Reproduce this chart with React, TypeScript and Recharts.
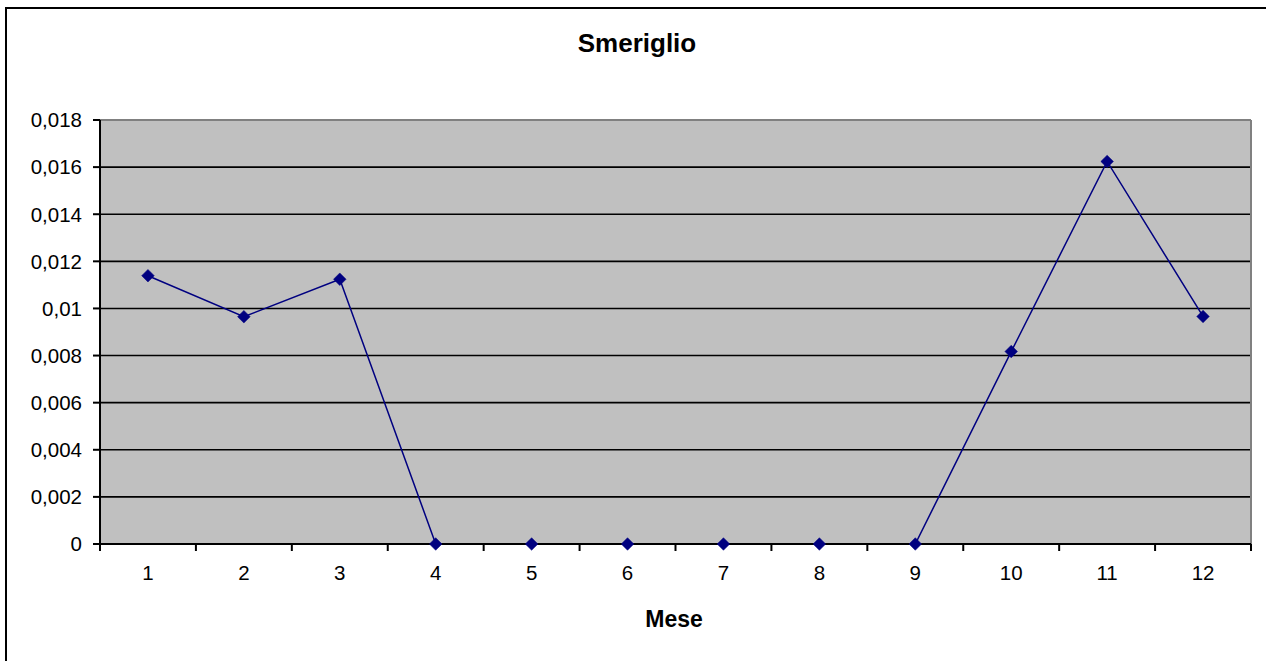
import React from "react";
import {
  LineChart,
  Line,
  XAxis,
  YAxis,
  CartesianGrid,
  ReferenceLine,
} from "recharts";

const months = [1, 2, 3, 4, 5, 6, 7, 8, 9, 10, 11, 12];
const values = [0.01139, 0.00965, 0.01124, 0, 0, 0, 0, 0, 0, 0.00817, 0.01624, 0.00966];
const yTicks = [0, 0.002, 0.004, 0.006, 0.008, 0.01, 0.012, 0.014, 0.016, 0.018];
const title = "Smeriglio";
const xTitle = "Mese";

const data = months.map((m, i) => ({ month: m, value: values[i] }));

const W = 1266;
const H = 661;
const PLOT_LEFT = 100;
const PLOT_RIGHT = 1251;
const PLOT_TOP = 120;
const PLOT_BOTTOM = 544;
const Y_AXIS_W = 90;
const X_AXIS_H = 60;
const BAND = (PLOT_RIGHT - PLOT_LEFT) / months.length;
const FONT = "'Liberation Sans', Arial, Helvetica, sans-serif";

const fmt = (v: number) => String(v).replace(".", ",");

const XTick = (props: any) => {
  const { x, y, payload, index } = props;
  return (
    <g>
      <line x1={x + BAND / 2} x2={x + BAND / 2} y1={y} y2={y + 7} stroke="#000" strokeWidth={2} />
      {index === 0 && (
        <line x1={x - BAND / 2} x2={x - BAND / 2} y1={y} y2={y + 7} stroke="#000" strokeWidth={2} />
      )}
      <text x={x} y={y + 36} textAnchor="middle" fontSize={20.5} fontFamily={FONT} fill="#000">
        {payload.value}
      </text>
    </g>
  );
};

const YTick = (props: any) => {
  const { x, y, payload } = props;
  return (
    <text x={x} y={y} dy="0.36em" textAnchor="end" fontSize={20.5} fontFamily={FONT} fill="#000">
      {fmt(payload.value)}
    </text>
  );
};

const Diamond = (props: any) => {
  const { cx, cy } = props;
  if (cx == null || cy == null) return null;
  const r = 6.3;
  return (
    <polygon
      points={`${cx},${cy - r} ${cx + r},${cy} ${cx},${cy + r} ${cx - r},${cy}`}
      fill="#000080"
      stroke="#000080"
      strokeWidth={0.5}
    />
  );
};

export default function App() {
  return (
    <div
      style={{
        position: "absolute",
        left: 0,
        top: 0,
        width: W,
        height: H,
        overflow: "hidden",
        background: "#fff",
      }}
    >
      <div
        style={{
          position: "absolute",
          left: 5,
          top: 7,
          width: 1300,
          height: 700,
          border: "2px solid #000",
        }}
      />
      <div style={{ position: "absolute", left: 0, top: 0 }}>
        <LineChart
          width={W}
          height={H}
          data={data}
          margin={{
            top: PLOT_TOP,
            right: W - PLOT_RIGHT,
            bottom: H - PLOT_BOTTOM - X_AXIS_H,
            left: PLOT_LEFT - Y_AXIS_W,
          }}
        >
          <CartesianGrid
            vertical={false}
            fill="#C0C0C0"
            fillOpacity={1}
            stroke="#000"
            strokeWidth={1.6}
          />
          <ReferenceLine y={0.018} stroke="#808080" strokeWidth={2} />
          <ReferenceLine x={12.5} stroke="#808080" strokeWidth={2} />
          <XAxis
            dataKey="month"
            type="number"
            domain={[0.5, 12.5]}
            ticks={months}
            interval={0}
            height={X_AXIS_H}
            tickLine={false}
            tickSize={0}
            tickMargin={0}
            axisLine={{ stroke: "#000", strokeWidth: 2 }}
            tick={<XTick />}
          />
          <YAxis
            type="number"
            domain={[0, 0.018]}
            ticks={yTicks}
            interval={0}
            width={Y_AXIS_W}
            tickSize={7}
            tickMargin={11}
            tickLine={{ stroke: "#000", strokeWidth: 2 }}
            axisLine={{ stroke: "#000", strokeWidth: 2 }}
            tick={<YTick />}
          />
          <Line
            type="linear"
            dataKey="value"
            stroke="#000080"
            strokeWidth={1.5}
            dot={<Diamond />}
            activeDot={false}
            isAnimationActive={false}
          />
        </LineChart>
      </div>
      <svg
        width={W}
        height={H}
        style={{ position: "absolute", left: 0, top: 0, pointerEvents: "none" }}
      >
        <text x={637} y={52} textAnchor="middle" fontSize={26} fontWeight="bold" fontFamily={FONT} fill="#000">
          {title}
        </text>
        <text x={674} y={627} textAnchor="middle" fontSize={23} fontWeight="bold" fontFamily={FONT} fill="#000">
          {xTitle}
        </text>
      </svg>
    </div>
  );
}
